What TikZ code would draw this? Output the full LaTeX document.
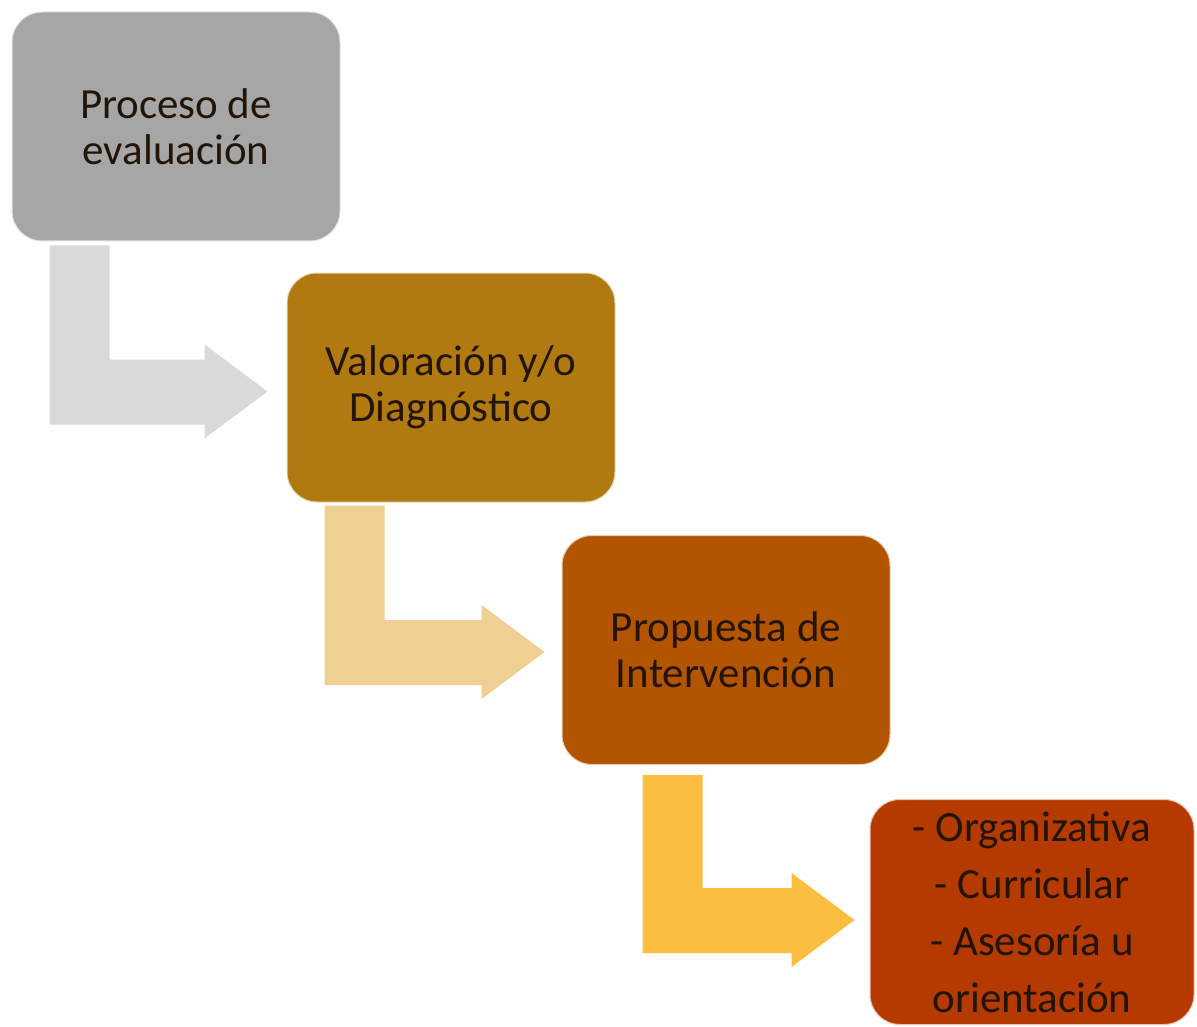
\documentclass[tikz,border=0pt]{standalone}
\usepackage{fontspec}
\setmainfont{Carlito}
\usetikzlibrary{calc}
\definecolor{cA}{HTML}{A6A6A6}
\definecolor{cB}{HTML}{B07A10}
\definecolor{cC}{HTML}{B35400}
\definecolor{cD}{HTML}{B43A00}
\definecolor{aA}{HTML}{D9D9D9}
\definecolor{aB}{HTML}{EFD092}
\definecolor{aC}{HTML}{FCBE40}
\definecolor{txt}{HTML}{231408}
\tikzset{
  stagebox/.style={rectangle, rounded corners=30pt, minimum width=328pt, minimum height=229pt,
    align=center, text=txt, font=\fontsize{43}{46}\selectfont, inner sep=0pt, draw=white!70!#1, line width=1pt, fill=#1},
}
\newcommand\bentarrow[3]{%
  \fill[#1] let \p1=(#2), \p2=(#3) in
    (\x1,\y1) -- (\x1+60pt,\y1) -- (\x1+60pt,\y2+32pt) -- (\x2-63pt,\y2+32pt)
    -- (\x2-63pt,\y2+47pt) -- (\x2,\y2) -- (\x2-63pt,\y2-47pt) -- (\x2-63pt,\y2-33pt)
    -- (\x1,\y2-33pt) -- cycle;}
\begin{document}
\begin{tikzpicture}[x=1pt,y=-1pt]
\useasboundingbox[fill=white] (0,0) rectangle (1197,1027);
\node[stagebox=cA] (b1) at (176,126.5) {Proceso de\\evaluación};
\node[stagebox=cB] (b2) at (451,387.5) {Valoración y/o\\Diagnóstico};
\node[stagebox=cC] (b3) at (726,650) {Propuesta de\\Intervención};
\node[stagebox=cD, minimum width=324pt, minimum height=225pt, font=\fontsize{43}{57}\selectfont] (b4) at (1032,912)
  {- Organizativa\\- Curricular\\- Asesoría u\\orientación};
\coordinate (s1) at ($(b1.south west)+(38,4)$);
\coordinate (t1) at ($(b2.west)+(-19,4)$);
\coordinate (s2) at ($(b2.south west)+(38,3)$);
\coordinate (t2) at ($(b3.west)+(-17,2)$);
\coordinate (s3) at ($(b3.south west)+(81,10)$);
\coordinate (t3) at ($(b4.west)+(-15,8)$);
\bentarrow{aA}{s1}{t1}
\bentarrow{aB}{s2}{t2}
\bentarrow{aC}{s3}{t3}
\end{tikzpicture}
\end{document}
